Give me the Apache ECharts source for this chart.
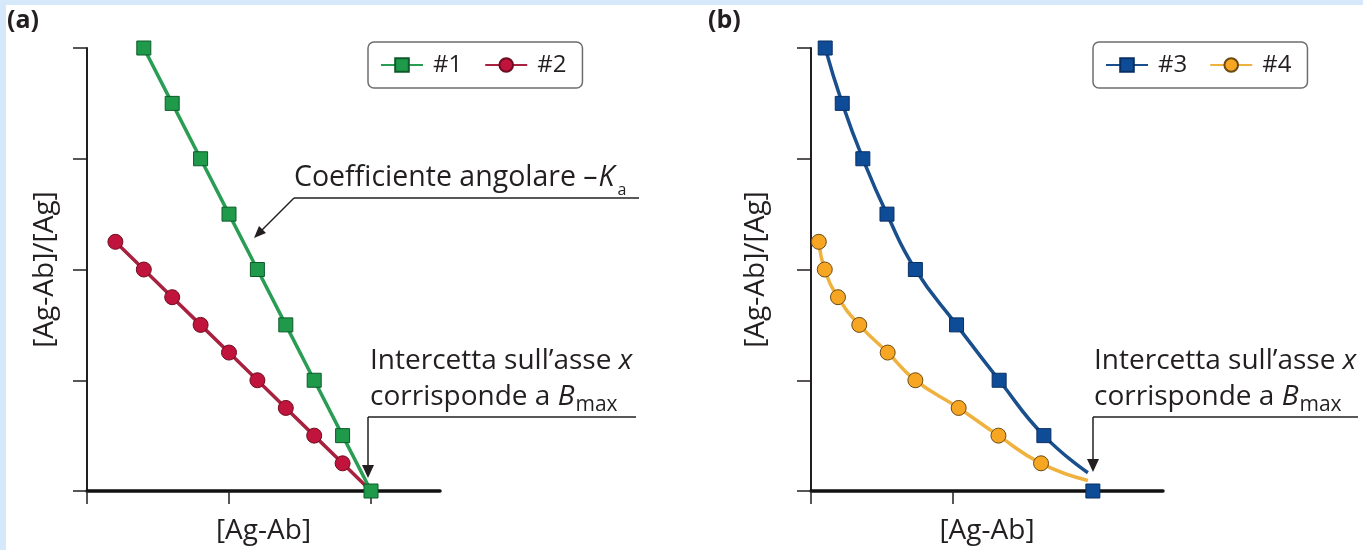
<!DOCTYPE html>
<html>
<head>
<meta charset="utf-8">
<script src="https://cdn.jsdelivr.net/npm/echarts@6/dist/echarts.min.js"></script>
<style>
  html, body { margin: 0; padding: 0; background: #fff; }
  #chart { width: 1363px; height: 550px; }
</style>
</head>
<body>
<div id="chart"></div>
<script>
// valori (unita' arbitrarie: 1 tacca = 1)
var s1X = [0.4, 0.6, 0.8, 1.0, 1.2, 1.4, 1.6, 1.8, 2.0];
var s1Y = [4, 3.5, 3, 2.5, 2, 1.5, 1, 0.5, 0];
var s2X = [0.2, 0.4, 0.6, 0.8, 1.0, 1.2, 1.4, 1.6, 1.8];
var s2Y = [2.25, 2, 1.75, 1.5, 1.25, 1, 0.75, 0.5, 0.25];
var s2End = [2.0, 0];
var s3X = [0.10, 0.22, 0.365, 0.535, 0.735, 1.025, 1.325, 1.64];
var s3Y = [4, 3.5, 3, 2.5, 2, 1.5, 1, 0.5];
var s3CurveEnd = [1.95, 0.165];
var s3Bmax = [1.985, 0];
var s4X = [0.055, 0.097, 0.19, 0.34, 0.54, 0.735, 1.04, 1.32, 1.62];
var s4Y = [2.25, 2, 1.75, 1.5, 1.25, 1, 0.75, 0.5, 0.25];
var s4CurveEnd = [1.95, 0.095];
var yTicks = [0, 1, 2, 3, 4];
var xTicksA = [0, 1, 2];
var xTicksB = [0, 1];
var legendA = ['#1', '#2'];
var legendB = ['#3', '#4'];

var INK = '#231f20';
var FONT = '"Open Sans", "Noto Sans", sans-serif';

function pairs(xs, ys) {
    return xs.map(function (x, i) { return [x, ys[i]]; });
}

// testo con corsivo / pedici, misurato col canvas
var ctx = document.createElement('canvas').getContext('2d');
function run(x, base, parts) {
    var out = [];
    var cx = x;
    parts.forEach(function (p) {
        var font = (p.it ? 'italic ' : '') + p.size + 'px ' + FONT;
        ctx.font = font;
        out.push({
            type: 'text', x: cx, y: base + (p.dy || 0) - 0.3 * p.size, z: 50,
            style: { text: p.t, font: font, fill: INK, verticalAlign: 'middle' }
        });
        cx += ctx.measureText(p.t).width + (p.gap || 0);
    });
    return out;
}
function seg(x1, y1, x2, y2) {
    return { type: 'line', z: 50, shape: { x1: x1, y1: y1, x2: x2, y2: y2 }, style: { stroke: INK, lineWidth: 1.5 } };
}
function tri(pts) {
    return { type: 'polygon', z: 50, shape: { points: pts }, style: { fill: INK } };
}

function xAxis(grid, max, ticks) {
    return {
        type: 'value', gridIndex: grid, min: 0, max: max, interval: 1,
        name: '[Ag-Ab]', nameLocation: 'middle', nameGap: 26,
        nameTextStyle: { fontSize: 28, color: INK, fontFamily: FONT },
        axisLine: { show: true, onZero: false, lineStyle: { color: '#111', width: 3.5 } },
        axisTick: { show: true, length: 13, customValues: ticks, lineStyle: { color: INK, width: 1.5 } },
        axisLabel: { show: false },
        splitLine: { show: false }
    };
}
function yAxis(grid, gap) {
    return {
        type: 'value', gridIndex: grid, min: 0, max: 4, interval: 1,
        name: '[Ag-Ab]/[Ag]', nameLocation: 'middle', nameGap: gap,
        nameTextStyle: { fontSize: 28, color: INK, fontFamily: FONT },
        axisLine: { show: true, onZero: false, lineStyle: { color: INK, width: 2 } },
        axisTick: { show: true, length: 14, customValues: yTicks, lineStyle: { color: INK, width: 1.5 } },
        axisLabel: { show: false },
        splitLine: { show: false }
    };
}
function legend(left, data) {
    return {
        left: left, top: 42, data: data,
        itemWidth: 42, itemHeight: 17, itemGap: 22,
        padding: [11, 16, 11, 12],
        borderColor: '#6d6e71', borderWidth: 1.5, borderRadius: 6,
        selectedMode: false,
        textStyle: { fontSize: 24, color: INK, fontFamily: FONT, padding: [0, 0, 0, 5] }
    };
}

var green = { fill: '#1f9a4b', border: '#0c5a2a', line: '#2a9d55' };
var red = { fill: '#c0143c', border: '#6e0c20', line: '#a8213f' };
var blue = { fill: '#0f4c97', border: '#082f63', line: '#1a4f8e' };
var orange = { fill: '#f6a623', border: '#6b4a12', line: '#f0b23e' };

function lineSeries(name, grid, data, sym, size, c, smooth) {
    return {
        name: name, type: 'line', xAxisIndex: grid, yAxisIndex: grid,
        data: data, symbol: sym, symbolSize: size, showSymbol: true,
        smooth: smooth || false,
        lineStyle: { color: c.line, width: 3.5 },
        itemStyle: { color: c.fill, borderColor: c.border, borderWidth: 1, opacity: 1 },
        emphasis: { disabled: true }
    };
}

var d2 = pairs(s2X, s2Y);
d2.push({ value: s2End, symbol: 'none' });
var d3 = pairs(s3X, s3Y);
d3.push({ value: s3CurveEnd, symbol: 'none' });
var d4 = pairs(s4X, s4Y);
d4.push({ value: s4CurveEnd, symbol: 'none' });

var graphics = [
    { type: 'rect', z: 0, shape: { x: 0, y: 0, width: 1363, height: 5 }, style: { fill: '#d6e9fb' } },
    { type: 'rect', z: 0, shape: { x: 0, y: 0, width: 6, height: 550 }, style: { fill: '#d6e9fb' } },
    { type: 'text', x: 7, y: 8, style: { text: '(a)', font: 'bold 25px ' + FONT, fill: INK } },
    { type: 'text', x: 708, y: 8, style: { text: '(b)', font: 'bold 25px ' + FONT, fill: INK } },
    // pendenza
    seg(294, 198, 639, 198),
    seg(294, 198, 261, 231),
    tri([[254, 238], [266, 233], [259, 226]]),
    // intercetta (a)
    seg(368, 417, 636, 417),
    seg(368, 417, 368, 467),
    tri([[362, 465], [374, 465], [368, 478]]),
    // intercetta (b)
    seg(1093, 417, 1358, 417),
    seg(1093, 417, 1093, 461),
    tri([[1087, 459], [1099, 459], [1093, 472]])
];
graphics = graphics
    .concat(run(294, 186, [{ t: 'Coefficiente angolare \u2013', size: 28.5, gap: 1 }, { t: 'K', size: 28.5, it: true, gap: 3 }, { t: 'a', size: 16, dy: 9 }]))
    .concat(run(370, 369, [{ t: 'Intercetta sull\u2019asse ', size: 28 }, { t: 'x', size: 28, it: true }]))
    .concat(run(370, 405, [{ t: 'corrisponde a ', size: 28 }, { t: 'B', size: 28, it: true, gap: 1 }, { t: 'max', size: 21, dy: 6 }]))
    .concat(run(1094, 369, [{ t: 'Intercetta sull\u2019asse ', size: 28 }, { t: 'x', size: 28, it: true }]))
    .concat(run(1094, 405, [{ t: 'corrisponde a ', size: 28 }, { t: 'B', size: 28, it: true, gap: 1 }, { t: 'max', size: 21, dy: 6 }]));

var chart = echarts.init(document.getElementById('chart'));
chart.setOption({
    backgroundColor: '#ffffff',
    animation: false,
    textStyle: { fontFamily: FONT },
    grid: [
        { left: 87, top: 48, width: 353, height: 444 },
        { left: 811, top: 48, width: 352, height: 444 }
    ],
    xAxis: [xAxis(0, 353 / 142, xTicksA), xAxis(1, 352 / 142, xTicksB)],
    yAxis: [yAxis(0, 28), yAxis(1, 41)],
    legend: [legend(368, legendA), legend(1093, legendB)],
    series: [
        lineSeries('#2', 0, d2, 'circle', 15, red),
        lineSeries('#1', 0, pairs(s1X, s1Y), 'rect', 14, green),
        lineSeries('#4', 1, d4, 'circle', 15, orange, 0.5),
        lineSeries('#3', 1, d3, 'rect', 14, blue, 0.5),
        {
            name: 'Bmax', type: 'scatter', xAxisIndex: 1, yAxisIndex: 1,
            data: [s3Bmax], symbol: 'rect', symbolSize: 14,
            itemStyle: { color: blue.fill, borderColor: blue.border, borderWidth: 1, opacity: 1 },
            emphasis: { disabled: true }, z: 3
        }
    ],
    graphic: graphics
});
</script>
</body>
</html>
